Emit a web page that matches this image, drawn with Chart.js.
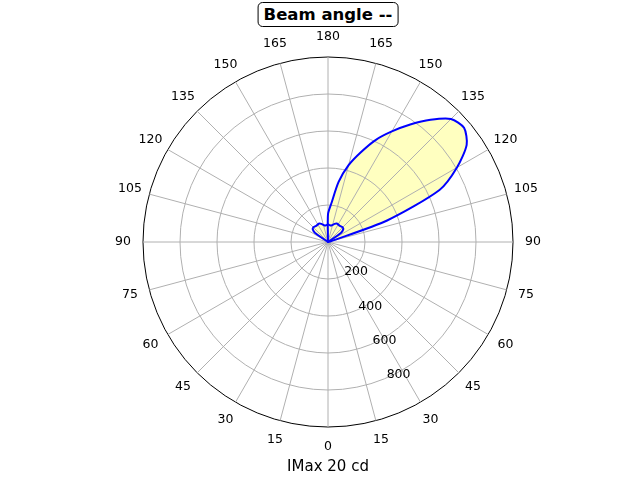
<!DOCTYPE html>
<html lang="en">
<head>
<meta charset="UTF-8">
<script src="https://cdn.jsdelivr.net/npm/chart.js"></script>
<title>Beam angle</title>
<style>
  body { margin: 0; background: #fff; font-family: 'DejaVu Sans', sans-serif; }
  #wrap { position: relative; width: 640px; height: 480px; }
  #title { position: absolute; top: 2px; left: 328px; transform: translateX(-50%);
           border: 1px solid #000; border-radius: 5px; padding: 1px 5px;
           font-weight: bold; font-size: 16.5px; line-height: 21px; white-space: nowrap; background: #fff; }
  #xlabel { position: absolute; top: 457px; left: 328px; transform: translateX(-50%);
            font-size: 15px; line-height: 18px; white-space: nowrap; }
</style>
</head>
<body>
<div id="wrap">
  <canvas id="polar" width="640" height="480"></canvas>
  <div id="title">Beam angle --</div>
  <div id="xlabel">IMax 20 cd</div>
</div>
<script>
// gamma angles (deg), same for both half planes
const gammas = [0, 5, 10, 15, 20, 25, 30, 35, 40, 45, 50, 55, 60, 65, 70, 75, 80, 85, 90,
                95, 100, 105, 110, 115, 120, 125, 130, 135, 140, 145, 150, 155, 160, 165, 170, 175, 180];

// main beam (right half plane / left half plane), cd
const mainRight = [0, 0, 0, 0, 0, 0, 0, 0, 0, 0, 0, 0, 0, 0, 0, 0, 0, 0, 0,
                   0, 0, 15, 340, 665, 805, 915, 960, 940, 862, 775, 690, 608, 515, 430, 330, 210, 150];
const mainLeft  = [0, 0, 0, 0, 0, 0, 0, 0, 0, 0, 0, 0, 0, 0, 0, 0, 0, 0, 0,
                   0, 0, 0, 0, 0, 0, 0, 0, 0, 0, 0, 0, 0, 0, 0, 0, 0, 0];

// small back lobe, cd
const sideRight = [0, 0, 0, 0, 0, 0, 0, 0, 0, 0, 0, 0, 0, 0, 0, 0, 0, 0, 0,
                   0, 0, 0, 0, 0, 0, 85, 108, 112, 110, 108, 110, 110, 104, 96, 90, 92, 96];
const sideLeft  = [0, 0, 0, 0, 0, 0, 0, 0, 0, 0, 0, 0, 0, 0, 0, 0, 0, 0, 0,
                   0, 0, 0, 0, 0, 0, 85, 108, 112, 110, 108, 110, 110, 104, 96, 90, 92, 96];

const angleTicks = [0, 15, 30, 45, 60, 75, 90, 105, 120, 135, 150, 165, 180];
const radialTicks = [200, 400, 600, 800];
const rMax = 1000;

// radar goes clockwise from the bottom: left half going up, then right half coming down
const n = gammas.length - 1;
function around(left, right) {
  const out = [];
  for (let i = 0; i < 2 * n; i++) out.push(i < n ? left[i] : right[2 * n - i]);
  return out;
}
const labels = [];
for (let i = 0; i < 2 * n; i++) labels.push(i < n ? gammas[i] : gammas[2 * n - i]);

// matplotlib-style labels: angle labels centred just outside the rim,
// r labels along the 22.5 deg line
const polarText = {
  id: 'polarText',
  afterDatasetsDraw(chart) {
    const s = chart.scales.r;
    const ctx = chart.ctx;
    ctx.save();
    ctx.font = '12.5px "DejaVu Sans"';
    ctx.fillStyle = '#000';
    ctx.textBaseline = 'middle';

    ctx.textAlign = 'center';
    labels.forEach((lab, i) => {
      if (!angleTicks.includes(lab)) return;
      const p = s.getPointPosition(i, s.drawingArea + 20);
      ctx.fillText(String(lab), p.x, p.y);
    });

    const a = 22.5 * Math.PI / 180;
    ctx.textAlign = 'left';
    radialTicks.forEach(v => {
      const d = s.getDistanceFromCenterForValue(v);
      ctx.fillText(String(v), s.xCenter + d * Math.sin(a) + 2, s.yCenter + d * Math.cos(a) - 4);
    });
    ctx.restore();
  }
};

new Chart(document.getElementById('polar'), {
  type: 'radar',
  data: {
    labels: labels,
    datasets: [
      { data: around(mainLeft, mainRight), borderColor: '#0000ff', backgroundColor: '#ffffc0',
        borderWidth: 2, fill: true, pointRadius: 0 },
      { data: around(sideLeft, sideRight), borderColor: '#0000ff', backgroundColor: '#ffffc0',
        borderWidth: 2, fill: true, pointRadius: 0 }
    ]
  },
  options: {
    responsive: false,
    animation: false,
    layout: { padding: { left: 143, right: 127, top: 57, bottom: 53 } },
    plugins: {
      legend: { display: false },
      tooltip: { enabled: false },
      filler: { drawTime: 'beforeDraw' }
    },
    elements: { line: { tension: 0.25, borderJoinStyle: 'round' } },
    scales: {
      r: {
        min: 0,
        max: rMax,
        startAngle: 180,
        ticks: { display: false, stepSize: 200 },
        pointLabels: { display: false },
        grid: {
          circular: true,
          color: c => (c.tick && c.tick.value === rMax) ? '#000' : '#b0b0b0',
          lineWidth: 1
        },
        angleLines: {
          color: c => angleTicks.includes(labels[c.index]) ? '#b0b0b0' : 'rgba(0,0,0,0)',
          lineWidth: 1
        }
      }
    }
  },
  plugins: [polarText]
});
</script>
</body>
</html>
